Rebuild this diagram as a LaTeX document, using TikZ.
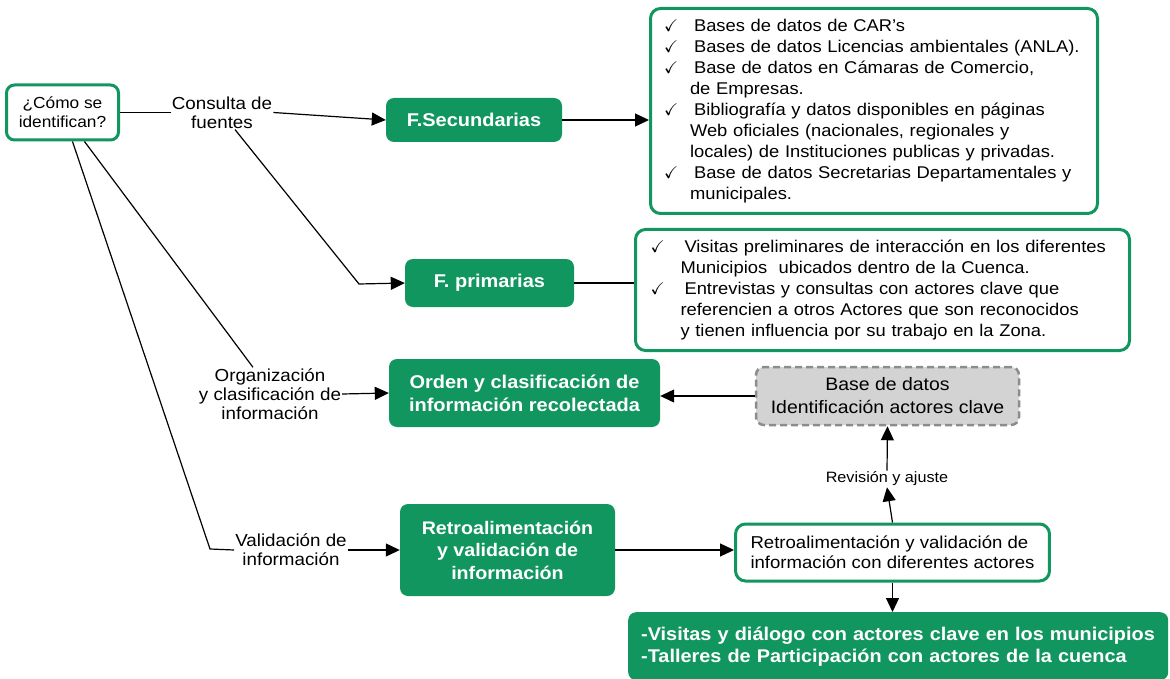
\documentclass[tikz,border=0pt]{standalone}
\usepackage{amssymb}
\usepackage{fontspec}
\setmainfont{Liberation Sans}[FakeStretch=1.08]
\usetikzlibrary{arrows.meta}
\definecolor{boxgreen}{RGB}{18,150,96}
\definecolor{dashgray}{RGB}{140,140,140}
\definecolor{basegray}{RGB}{211,211,211}
\newcommand{\chk}[1]{\makebox[#1][l]{$\checkmark$}}

\begin{document}
\begin{tikzpicture}[x=1pt, y=-1pt,
        gbox/.style={rounded corners=8pt, fill=boxgreen, text=white, align=center, font=\fontsize{18.5}{23}\selectfont\bfseries},
        wbox/.style={rounded corners=10pt, draw=boxgreen, line width=3pt, fill=white, align=left},
        lbl/.style={align=center, inner sep=1pt, font=\fontsize{17.4}{19}\selectfont},
        link/.style={line width=1.2pt},
        arr/.style={link, -{Triangle[length=14pt,width=13pt]}}]
        \useasboundingbox (0,0) rectangle (1170,679);

        \node[wbox, align=center, rounded corners=8pt, minimum width=112pt, minimum height=55pt, inner sep=1pt, font=\fontsize{16}{19}\selectfont] (como) at (62.5,112.5) {¿Cómo se\\identifican?};
        \node[lbl] (consulta) at (222,112.5) {Consulta de\\fuentes};
        \node[lbl] (org) at (270,394) {Organización\\y clasificación de\\información};
        \node[lbl] (valid) at (291,550) {Validación de\\información};

        \node[gbox, minimum width=176pt, minimum height=44pt] (fsec) at (474,120) {F.Secundarias};
        \node[gbox, minimum width=169pt, minimum height=48pt] (fprim) at (489.5,283) {F. primarias};
        \node[gbox, minimum width=271pt, minimum height=68pt] (orden) at (524.5,393) {Orden y clasificación de\\información recolectada};
        \node[gbox, minimum width=215pt, minimum height=92pt, font=\fontsize{18.2}{22.5}\selectfont\bfseries] (retro) at (507.5,550) {Retroalimentación\\y validación de\\información};

        \node[wbox, text width=420pt, inner xsep=13.5pt, minimum height=205pt, font=\fontsize{17}{21}\selectfont] (seclist) at (874,111) {%
            \chk{30pt}Bases de datos de CAR’s\\
            \chk{30pt}Bases de datos Licencias ambientales (ANLA).\\
            \chk{30pt}Base de datos en Cámaras de Comercio,\\
            \hspace*{26pt}de Empresas.\\
            \chk{30pt}Bibliografía y datos disponibles en páginas\\
            \hspace*{26pt}Web oficiales (nacionales, regionales y\\
            \hspace*{26pt}locales) de Instituciones publicas y privadas.\\
            \chk{30pt}Base de datos Secretarias Departamentales y\\
            \hspace*{26pt}municipales.};
        \node[wbox, text width=464pt, inner xsep=15pt, minimum height=121pt, font=\fontsize{17}{21}\selectfont] (primlist) at (882.5,290) {%
            \chk{34pt}Visitas preliminares de interacción en los diferentes\\
            \hspace*{30pt}Municipios\ \ ubicados dentro de la Cuenca.\\
            \chk{34pt}Entrevistas y consultas con actores clave que\\
            \hspace*{30pt}referencien a otros Actores que son reconocidos\\
            \hspace*{30pt}y tienen influencia por su trabajo en la Zona.};

        \node[rounded corners=8pt, draw=dashgray, dashed, dash pattern=on 7pt off 4pt, line width=2.5pt, fill=basegray, minimum width=263pt, minimum height=58pt, align=center, font=\fontsize{18}{23}\selectfont] (base) at (887.5,396) {Base de datos\\Identificación actores clave};
        \node[lbl, font=\fontsize{15}{17}\selectfont, fill=white] (rev) at (887,479) {Revisión y ajuste};
        \node[wbox, minimum width=308pt, minimum height=57pt, inner xsep=15pt, font=\fontsize{17.2}{20}\selectfont] (retrob) at (892.5,552.5) {Retroalimentación y validación de\\información con diferentes actores};
        \node[gbox, anchor=north west, align=left, text width=514pt, minimum height=68pt, inner xsep=13pt, font=\fontsize{18.4}{22}\selectfont\bfseries] (visitas) at (628,612) {-Visitas y diálogo con actores clave en los municipios\\-Talleres de Participación con actores de la cuenca};

        \coordinate (kp) at (359,284);
        \coordinate (kv) at (210,549);

        \draw[link] (como.east) -- (consulta.west);
        \draw[arr] (consulta.east) -- (fsec.west);
        \draw[arr] (fsec.east) -- (fsec.east -| seclist.west);
        \draw[arr] ([xshift=13pt]consulta.south) -- (kp) -- (fprim.west);
        \draw[link] (fprim.east) -- (fprim.east -| primlist.west);
        \draw[link] ([xshift=22pt]como.south) -- ([xshift=-17pt]org.north);
        \draw[arr] (org.east) -- (orden.west);
        \draw[link] ([xshift=10pt]como.south) -- (kv) -- (valid.west);
        \draw[arr] (valid.east) -- (retro.west);
        \draw[arr] (retro.east) -- (retro.east -| retrob.west);
        \draw[arr] (retrob.north) -- (rev.south);
        \draw[arr] (rev.north) -- (base.south);
        \draw[arr] (base.west) -- (base.west -| orden.east);
        \draw[arr] (retrob.south) -- (retrob.south |- visitas.north);
    \end{tikzpicture}
\end{document}
